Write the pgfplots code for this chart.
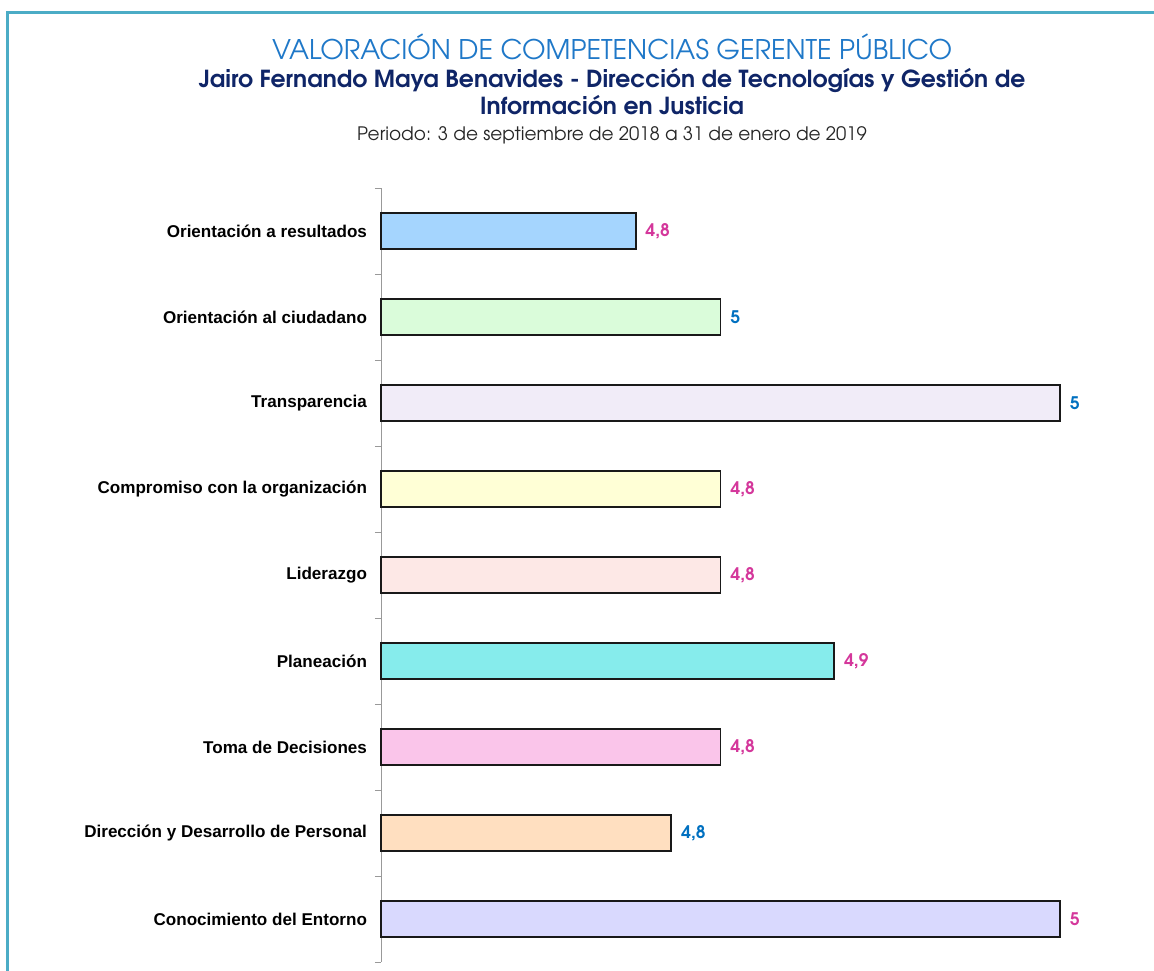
\documentclass[border=0pt]{standalone}
\usepackage{pgfplots}
\pgfplotsset{compat=1.18}
\usepackage{fontspec}
\setmainfont{TeX Gyre Adventor}
\newfontfamily\arialf{Liberation Sans}
\definecolor{frameC}{HTML}{4BACC6}
\definecolor{titleC}{HTML}{1F78C8}
\definecolor{subC}{HTML}{0F2567}
\definecolor{magC}{HTML}{D4379B}
\definecolor{bluC}{HTML}{0070C0}
\definecolor{c1}{HTML}{A5D5FE}
\definecolor{c2}{HTML}{DAFCDA}
\definecolor{c3}{HTML}{F1ECF8}
\definecolor{c4}{HTML}{FFFFD6}
\definecolor{c5}{HTML}{FDE8E6}
\definecolor{c6}{HTML}{86ECEC}
\definecolor{c7}{HTML}{FAC5EA}
\definecolor{c8}{HTML}{FFDFC0}
\definecolor{c9}{HTML}{D9D9FE}
\newcommand{\PX}[2]{({#1*0.75pt},{(971-#2)*0.75pt})}
\begin{document}
\begin{tikzpicture}
\useasboundingbox (0,0) rectangle (865.5pt,728.25pt);
\draw[frameC, line width=2.3pt] \PX{7.5}{971} -- \PX{7.5}{12.5} -- \PX{1154}{12.5};
\node[anchor=base, text=titleC, font=\fontsize{20.3}{24}\selectfont, inner sep=0pt] at \PX{612}{60} {VALORACIÓN DE COMPETENCIAS GERENTE PÚBLICO};
\node[anchor=base, text=subC, font=\bfseries\fontsize{17.6}{20}\selectfont, inner sep=0pt] at \PX{612}{88} {Jairo Fernando Maya Benavides - Dirección de Tecnologías y Gestión de};
\node[anchor=base, text=subC, font=\bfseries\fontsize{17.6}{20}\selectfont, inner sep=0pt] at \PX{612}{115} {Información en Justicia};
\node[anchor=base, text=black!85, font=\fontsize{13.9}{16}\selectfont, inner sep=0pt] at \PX{612}{141} {Periodo: 3 de septiembre de 2018 a 31 de enero de 2019};
\begin{axis}[
  at={(285.75pt,6.75pt)}, anchor=south west,
  scale only axis, width=509.25pt, height=580.5pt,
  xbar, bar width=27pt, bar shift=0pt,
  x filter/.expression={x-4.6},
  xmin=0, xmax=0.4, ymin=-0.5, ymax=8.5, y dir=reverse,
  clip=false,
  axis x line=none, axis y line*=left,
  y axis line style={-, draw=gray!80, line width=0.6pt},
  ytick={0,...,8},
  yticklabels={Orientación a resultados, Orientación al ciudadano\ , Transparencia, Compromiso con la organización, Liderazgo, Planeación, Toma de Decisiones, Dirección y Desarrollo de Personal, Conocimiento del Entorno},
  major tick length=0pt,
  extra y ticks={-0.5,0.5,...,8.5},
  extra y tick labels={},
  extra y tick style={major tick length=4.5pt, tick align=outside, tick style={draw=gray!80, line width=0.6pt}},
  yticklabel style={font=\arialf\bfseries\fontsize{12.8}{14}\selectfont, text=black, xshift=-7pt},
  every axis plot/.append style={draw=black!90, line width=1.4pt},
  nodes near coords style={font=\bfseries\fontsize{13}{15}\selectfont, anchor=west, xshift=3.5pt},
]
\addplot[fill=c1, nodes near coords={4,8}, nodes near coords style={text=magC}] coordinates {(4.75,0)};
\addplot[fill=c2, nodes near coords={5}, nodes near coords style={text=bluC}] coordinates {(4.80,1)};
\addplot[fill=c3, nodes near coords={5}, nodes near coords style={text=bluC}] coordinates {(5.00,2)};
\addplot[fill=c4, nodes near coords={4,8}, nodes near coords style={text=magC}] coordinates {(4.80,3)};
\addplot[fill=c5, nodes near coords={4,8}, nodes near coords style={text=magC}] coordinates {(4.80,4)};
\addplot[fill=c6, nodes near coords={4,9}, nodes near coords style={text=magC}] coordinates {(4.867,5)};
\addplot[fill=c7, nodes near coords={4,8}, nodes near coords style={text=magC}] coordinates {(4.80,6)};
\addplot[fill=c8, nodes near coords={4,8}, nodes near coords style={text=bluC}] coordinates {(4.771,7)};
\addplot[fill=c9, nodes near coords={5}, nodes near coords style={text=magC}] coordinates {(5.00,8)};
\end{axis}
\end{tikzpicture}
\end{document}
